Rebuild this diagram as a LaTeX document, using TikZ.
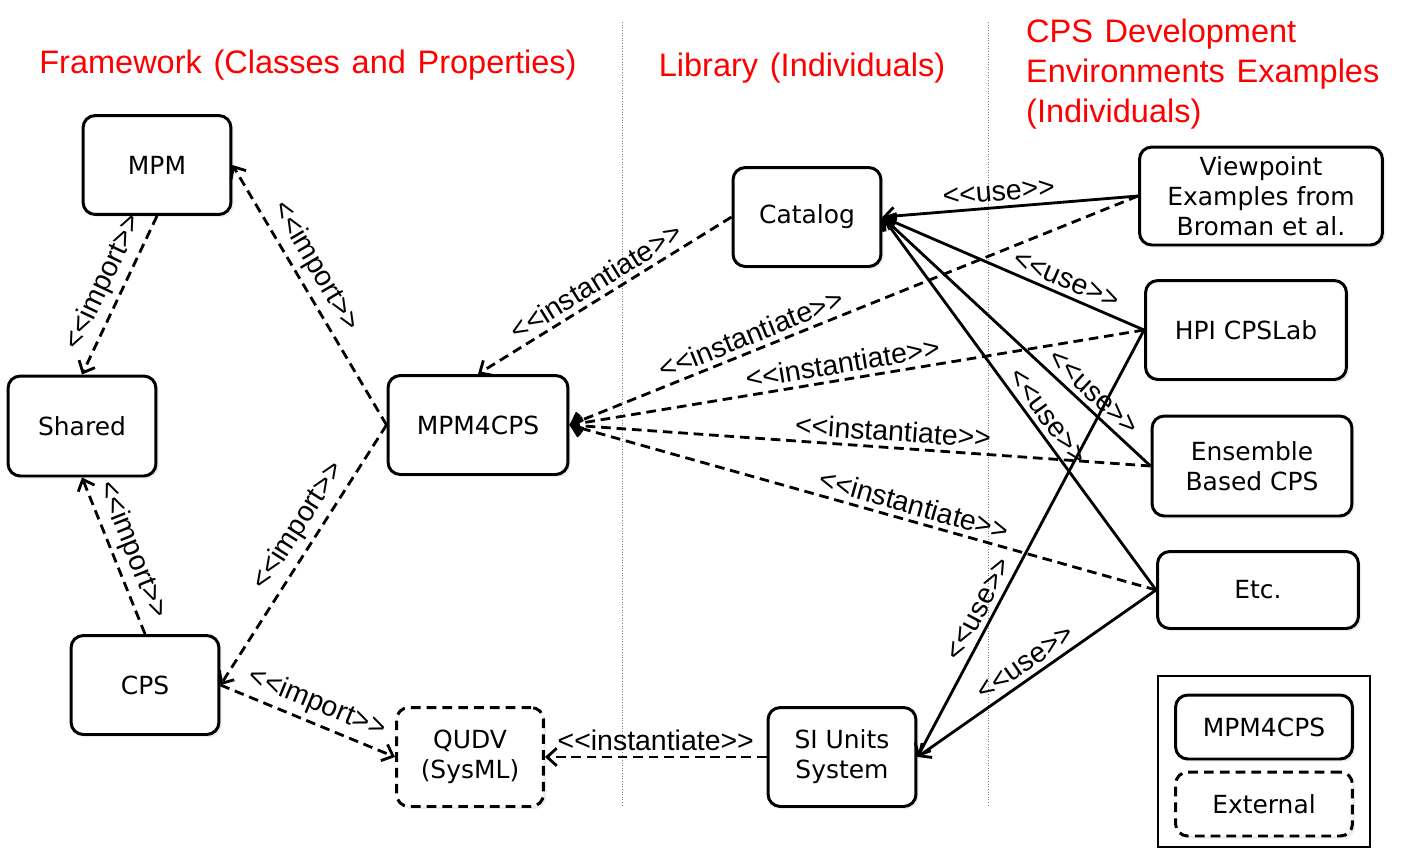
\documentclass[tikz,border=0pt]{standalone}
\usepackage{fontspec}
\setmainfont{DejaVu Sans}
\newfontfamily\labelfont{Liberation Sans}
\usetikzlibrary{arrows.meta,shadows}

\newcommand{\stereo}[1]{<{}<#1>{}>}
\newcommand{\widespace}{\spaceskip=0.36em\relax}

\begin{document}
\begin{tikzpicture}[x=0.02cm,y=-0.02cm,
  box/.style={draw,line width=1.7pt,rounded corners=7pt,fill=white,align=center,
    font=\fontsize{14.2}{17}\selectfont,
    drop shadow={opacity=0.15,shadow xshift=1.5pt,shadow yshift=-1.5pt}},
  ext/.style={box,dash pattern=on 5.5pt off 3.5pt},
  heading/.style={text=red,font=\labelfont\fontsize{18.5}{22.7}\selectfont\widespace},
  dep/.style={line width=1.6pt,dash pattern=on 5.5pt off 3.3pt,-{Straight Barb[length=5.5pt,width=10pt]}},
  usearrow/.style={line width=1.6pt,-{Straight Barb[length=5.5pt,width=10pt]}},
  lbl/.style={font=\labelfont\fontsize{16.2}{19}\selectfont,sloped,above,inner sep=2.8pt}]
\useasboundingbox (0,0) rectangle (1418,859);

% column separators
\draw[gray,densely dotted,line width=0.5pt] (622,22) -- (622,805);
\draw[gray,densely dotted,line width=0.5pt] (988,22) -- (988,805);

% headings
\node[heading] (fwtitle) at (308,65) {Framework (Classes and Properties)};
\node[heading] (libtitle) at (802,68) {Library (Individuals)};
\node[heading,align=left,anchor=north west] (cpstitle) at (1020,13)
  {CPS Development\\Environments Examples\\(Individuals)};

% framework
\node[box,minimum width=2.96cm,minimum height=1.98cm] (mpm) at (157,165) {MPM};
\node[box,minimum width=2.96cm,minimum height=2cm] (shared) at (82,426) {Shared};
\node[box,minimum width=2.96cm,minimum height=1.98cm] (cps) at (145,685) {CPS};
\node[box,minimum width=3.6cm,minimum height=1.98cm] (mpm4cps) at (478,425) {MPM4CPS};
\node[ext,minimum width=2.94cm,minimum height=1.98cm] (qudv) at (470,757) {QUDV\\(SysML)};

% library
\node[box,minimum width=2.96cm,minimum height=1.98cm] (catalog) at (807,217) {Catalog};
\node[box,minimum width=2.96cm,minimum height=1.98cm] (si) at (842,757) {SI Units\\System};

% environments
\node[box,minimum width=4.86cm,minimum height=1.96cm] (viewpoint) at (1261,196)
  {Viewpoint\\Examples from\\Broman et al.};
\node[box,minimum width=4.02cm,minimum height=1.98cm] (hpi) at (1246,330) {HPI CPSLab};
\node[box,minimum width=4cm,minimum height=2cm] (ensemble) at (1252,466) {Ensemble\\Based CPS};
\node[box,minimum width=4.02cm,minimum height=1.54cm] (etc) at (1258,590) {Etc.};

% legend
\node[draw,line width=0.8pt,minimum width=4.24cm,minimum height=3.42cm] (legend) at (1264,761.5) {};
\node[box,minimum width=3.54cm,minimum height=1.28cm] (legmpm) at (1264,727) {MPM4CPS};
\node[ext,minimum width=3.54cm,minimum height=1.28cm] (legext) at (1264,804) {External};

% imports
\draw[dep] (mpm.south) -- node[lbl,pos=0.47] {\stereo{import}} (shared.north);
\draw[dep] (mpm4cps.west) -- node[lbl,pos=0.57] {\stereo{import}} (mpm.east);
\draw[dep] (mpm4cps.west) -- node[lbl,pos=0.43] {\stereo{import}} (cps.east);
\draw[dep] (cps.north) -- node[lbl,pos=0.49] {\stereo{import}} (shared.south);
\draw[dep] (cps.east) -- node[lbl,pos=0.51] {\stereo{import}} (qudv.west);

% instantiations
\draw[dep] (si.west) -- node[lbl,pos=0.5] {\stereo{instantiate}} (qudv.east);
\draw[dep] (catalog.west) -- node[lbl,pos=0.5] {\stereo{instantiate}} (mpm4cps.north);
\foreach \src/\p in {viewpoint/0.67,hpi/0.52,ensemble/0.445,etc/0.42}
  \draw[dep] (\src.west) -- node[lbl,pos=\p] {\stereo{instantiate}} (mpm4cps.east);

% uses
\foreach \src/\p in {viewpoint/0.54,hpi/0.32,ensemble/0.25,etc/0.44}
  \draw[usearrow] (\src.west) -- node[lbl,pos=\p] {\stereo{use}} (catalog.east);
\draw[usearrow] (hpi.west) -- node[lbl,pos=0.67] {\stereo{use}} (si.east);
\draw[usearrow] (etc.west) -- node[lbl,pos=0.51] {\stereo{use}} (si.east);
\end{tikzpicture}
\end{document}
